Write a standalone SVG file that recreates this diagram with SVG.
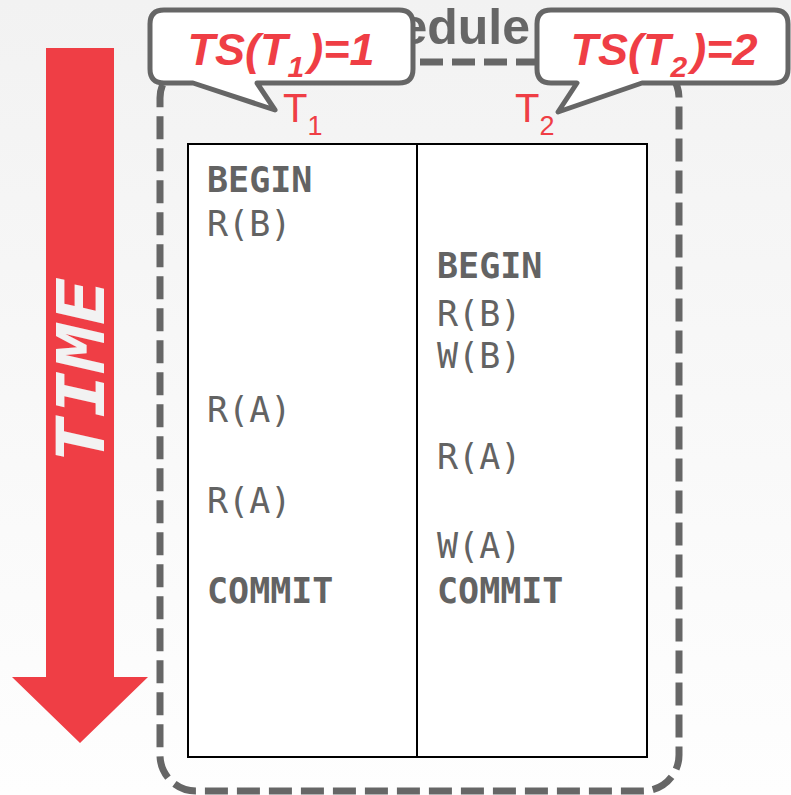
<svg xmlns="http://www.w3.org/2000/svg" width="791" height="795" viewBox="0 0 791 795">
  <defs>
    <linearGradient id="bg" x1="0" y1="0" x2="0" y2="1">
      <stop offset="0" stop-color="#f2f2f2"/>
      <stop offset="1" stop-color="#fefefe"/>
    </linearGradient>
  </defs>
  <style>
    .frame { fill: none; stroke: #666666; stroke-width: 7; stroke-dasharray: 23 9; }
    .title { font-family: "Liberation Sans", Arial, sans-serif; font-weight: bold; font-size: 50px; fill: #666666; }
    .bubble { fill: #ffffff; stroke: #666666; stroke-width: 5; stroke-linejoin: round; }
    .ts { font-family: "Liberation Sans", Arial, sans-serif; font-weight: bold; font-style: italic; font-size: 45px; fill: #ef3e45; }
    .lbl { font-family: "Liberation Sans", Arial, sans-serif; font-size: 40px; fill: #ef3e45; }
    .sub { font-size: 27px; }
    .grid { fill: #ffffff; stroke: #000000; stroke-width: 2; }
    .op { font-family: "DejaVu Sans Mono", "Liberation Mono", monospace; font-size: 35px; fill: #636363; }
    .kw { font-weight: bold; }
    .time { font-family: "DejaVu Sans Mono", "Liberation Mono", monospace; font-weight: bold; font-style: italic; font-size: 66px; fill: #f2f2f2; }
  </style>

  <rect width="791" height="795" fill="url(#bg)"/>

  <!-- time arrow -->
  <g id="time-arrow">
    <polygon points="46,48 114,48 114,677 148,677 80,743 12,677 46,677" fill="#ef3e45"/>
    <text class="time" transform="translate(104,371) rotate(-90)" text-anchor="middle" textLength="185" lengthAdjust="spacingAndGlyphs">TIME</text>
  </g>

  <!-- schedule frame -->
  <g id="schedule">
    <text class="title" x="530" y="44" text-anchor="end">Schedule</text>
    <rect class="frame" x="160" y="62" width="519" height="729" rx="36" ry="36"/>
  </g>

  <!-- schedule table -->
  <g id="table">
    <rect class="grid" x="188" y="144" width="459" height="613"/>
    <line x1="417" y1="144" x2="417" y2="757" stroke="#000000" stroke-width="2"/>
  </g>

  <g id="t1-ops">
    <text class="op kw" x="207" y="192">BEGIN</text>
    <text class="op" x="207" y="236">R(B)</text>
    <text class="op" x="207" y="422">R(A)</text>
    <text class="op" x="207" y="513">R(A)</text>
    <text class="op kw" x="207" y="603">COMMIT</text>
  </g>

  <g id="t2-ops">
    <text class="op kw" x="437" y="278">BEGIN</text>
    <text class="op" x="437" y="326">R(B)</text>
    <text class="op" x="437" y="368">W(B)</text>
    <text class="op" x="437" y="469">R(A)</text>
    <text class="op" x="437" y="558">W(A)</text>
    <text class="op kw" x="437" y="603">COMMIT</text>
  </g>

  <!-- column headers -->
  <g id="t1-label">
    <text class="lbl" x="283" y="122">T<tspan class="sub" dy="13">1</tspan></text>
  </g>
  <g id="t2-label">
    <text class="lbl" x="515" y="122">T<tspan class="sub" dy="13">2</tspan></text>
  </g>

  <!-- timestamp callouts -->
  <g id="ts-t1">
    <path class="bubble" d="M164,10 H399 Q413,10 413,24 V69 Q413,83 399,83 H257 L275,110 L193,83 H164 Q150,83 150,69 V24 Q150,10 164,10 Z"/>
    <text class="ts" x="281" y="65" text-anchor="middle">TS(T<tspan font-size="30" dy="12">1</tspan><tspan dy="-12" dx="4">)=1</tspan></text>
  </g>
  <g id="ts-t2">
    <path class="bubble" d="M551,10 H774 Q788,10 788,24 V69 Q788,83 774,83 H642 L558,112 L577,83 H551 Q537,83 537,69 V24 Q537,10 551,10 Z"/>
    <text class="ts" x="664" y="65" text-anchor="middle">TS(T<tspan font-size="30" dy="12">2</tspan><tspan dy="-12" dx="4">)=2</tspan></text>
  </g>
</svg>
